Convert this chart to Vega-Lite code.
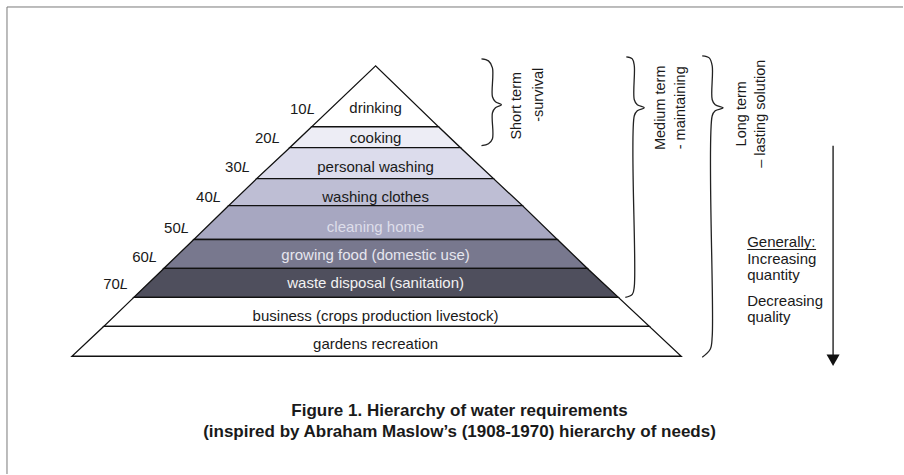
{
  "$schema": "https://vega.github.io/schema/vega-lite/v6.json",
  "width": 904,
  "height": 475,
  "autosize": {"type": "fit", "contains": "padding"},
  "padding": 0,
  "background": "white",
  "config": {"view": {"stroke": null}, "font": "Liberation Sans"},
  "datasets": {
    "frame": [
      {"x": 7, "y": 7, "x2": 7, "y2": 475},
      {"x": 7, "y": 7, "x2": 904, "y2": 7}
    ],
    "bands": [
      {"band": "drinking", "y": 66, "x": 376, "x2": 376},
      {"band": "drinking", "y": 127, "x": 312, "x2": 439},
      {"band": "cooking", "y": 127, "x": 312, "x2": 439},
      {"band": "cooking", "y": 148, "x": 290, "x2": 461},
      {"band": "personal washing", "y": 148, "x": 290, "x2": 461},
      {"band": "personal washing", "y": 179, "x": 257, "x2": 494},
      {"band": "washing clothes", "y": 179, "x": 257, "x2": 494},
      {"band": "washing clothes", "y": 206, "x": 229, "x2": 523},
      {"band": "cleaning home", "y": 206, "x": 229, "x2": 523},
      {"band": "cleaning home", "y": 240, "x": 194, "x2": 558},
      {"band": "growing food", "y": 240, "x": 194, "x2": 558},
      {"band": "growing food", "y": 269, "x": 164, "x2": 588},
      {"band": "waste disposal", "y": 269, "x": 164, "x2": 588},
      {"band": "waste disposal", "y": 298, "x": 134, "x2": 619},
      {"band": "business", "y": 298, "x": 134, "x2": 619},
      {"band": "business", "y": 327, "x": 104, "x2": 650},
      {"band": "gardens", "y": 327, "x": 104, "x2": 650},
      {"band": "gardens", "y": 357, "x": 72, "x2": 682}
    ],
    "labels": [
      {"band": "drinking", "label": "drinking", "x": 376, "y": 108},
      {"band": "cooking", "label": "cooking", "x": 376, "y": 138},
      {"band": "personal washing", "label": "personal washing", "x": 376, "y": 167},
      {"band": "washing clothes", "label": "washing clothes", "x": 376, "y": 197},
      {"band": "cleaning home", "label": "cleaning home", "x": 376, "y": 227},
      {"band": "growing food", "label": "growing food (domestic use)", "x": 376, "y": 256},
      {"band": "waste disposal", "label": "waste disposal (sanitation)", "x": 376, "y": 284},
      {"band": "business", "label": "business (crops production livestock)", "x": 376, "y": 317},
      {"band": "gardens", "label": "gardens recreation", "x": 376, "y": 345}
    ],
    "levels": [
      {"n": "10", "x": 307, "y": 109},
      {"n": "20", "x": 272, "y": 138},
      {"n": "30", "x": 242, "y": 167},
      {"n": "40", "x": 213, "y": 197},
      {"n": "50", "x": 181, "y": 228},
      {"n": "60", "x": 149, "y": 258},
      {"n": "70", "x": 120, "y": 285}
    ],
    "braces": [
      {"brace": "short", "i": 1, "x": 482, "y": 59},
      {"brace": "short", "i": 2, "x": 489, "y": 61},
      {"brace": "short", "i": 3, "x": 493, "y": 68},
      {"brace": "short", "i": 4, "x": 493, "y": 97},
      {"brace": "short", "i": 5, "x": 496, "y": 102},
      {"brace": "short", "i": 6, "x": 502, "y": 105},
      {"brace": "short", "i": 7, "x": 496, "y": 108},
      {"brace": "short", "i": 8, "x": 493, "y": 113},
      {"brace": "short", "i": 9, "x": 493, "y": 139},
      {"brace": "short", "i": 10, "x": 489, "y": 144},
      {"brace": "short", "i": 11, "x": 482, "y": 146},
      {"brace": "medium", "i": 1, "x": 627, "y": 57},
      {"brace": "medium", "i": 2, "x": 633, "y": 59},
      {"brace": "medium", "i": 3, "x": 635, "y": 66},
      {"brace": "medium", "i": 4, "x": 635, "y": 100},
      {"brace": "medium", "i": 5, "x": 638, "y": 105},
      {"brace": "medium", "i": 6, "x": 645, "y": 108},
      {"brace": "medium", "i": 7, "x": 638, "y": 111},
      {"brace": "medium", "i": 8, "x": 635, "y": 116},
      {"brace": "medium", "i": 9, "x": 635, "y": 287},
      {"brace": "medium", "i": 10, "x": 633, "y": 295},
      {"brace": "medium", "i": 11, "x": 626, "y": 298},
      {"brace": "long", "i": 1, "x": 703, "y": 56},
      {"brace": "long", "i": 2, "x": 710, "y": 58},
      {"brace": "long", "i": 3, "x": 713, "y": 66},
      {"brace": "long", "i": 4, "x": 713, "y": 100},
      {"brace": "long", "i": 5, "x": 716, "y": 105},
      {"brace": "long", "i": 6, "x": 724, "y": 108},
      {"brace": "long", "i": 7, "x": 716, "y": 111},
      {"brace": "long", "i": 8, "x": 713, "y": 116},
      {"brace": "long", "i": 9, "x": 713, "y": 337},
      {"brace": "long", "i": 10, "x": 711, "y": 350},
      {"brace": "long", "i": 11, "x": 703, "y": 358}
    ],
    "terms": [
      {"t": "Short term", "x": 518, "y": 106},
      {"t": "-survival", "x": 540, "y": 95},
      {"t": "Medium term", "x": 662, "y": 108},
      {"t": "- maintaining", "x": 682, "y": 108},
      {"t": "Long term", "x": 743, "y": 114},
      {"t": "– lasting solution", "x": 762, "y": 114}
    ],
    "notes": [
      {"t": "Generally:", "x": 748, "y": 243},
      {"t": "Increasing", "x": 748, "y": 260},
      {"t": "quantity", "x": 748, "y": 276},
      {"t": "Decreasing", "x": 748, "y": 302},
      {"t": "quality", "x": 748, "y": 318}
    ],
    "underline": [
      {"x": 748, "x2": 817, "y": 250, "y2": 250}
    ],
    "arrow": [
      {"x": 834, "x2": 834, "y": 146, "y2": 358}
    ],
    "arrowhead": [
      {"x": 834, "y": 361}
    ],
    "title": [
      {"t": "Figure 1. Hierarchy of water requirements", "x": 460, "y": 412},
      {"t": "(inspired by Abraham Maslow’s (1908-1970) hierarchy of needs)", "x": 460, "y": 433}
    ]
  },
  "encoding": {
    "x": {"field": "x", "type": "quantitative", "scale": {"domain": [0, 904], "nice": false, "zero": false}, "axis": null},
    "y": {"field": "y", "type": "quantitative", "scale": {"domain": [0, 475], "nice": false, "zero": false, "reverse": true}, "axis": null}
  },
  "layer": [
    {
      "data": {"name": "frame"},
      "mark": {"type": "rule", "color": "#7a7a7a", "strokeWidth": 1},
      "encoding": {"x2": {"field": "x2"}, "y2": {"field": "y2"}}
    },
    {
      "data": {"name": "bands"},
      "mark": {"type": "area", "orient": "horizontal", "stroke": "#111111", "strokeWidth": 1.3, "opacity": 1},
      "encoding": {
        "x": {"field": "x", "type": "quantitative", "stack": null, "scale": {"domain": [0, 904], "nice": false, "zero": false}, "axis": null},
        "x2": {"field": "x2"},
        "color": {
          "field": "band", "type": "nominal", "legend": null,
          "scale": {
            "domain": ["drinking", "cooking", "personal washing", "washing clothes", "cleaning home", "growing food", "waste disposal", "business", "gardens"],
            "range": ["#ffffff", "#ededf5", "#dcdcec", "#bebed4", "#a7a7c1", "#78788e", "#4f4f5d", "#ffffff", "#ffffff"]
          }
        }
      }
    },
    {
      "data": {"name": "labels"},
      "mark": {"type": "text", "align": "center", "baseline": "middle", "fontSize": 15, "font": "Liberation Sans"},
      "encoding": {
        "text": {"field": "label"},
        "color": {
          "field": "band", "type": "nominal", "legend": null,
          "scale": {
            "domain": ["drinking", "cooking", "personal washing", "washing clothes", "cleaning home", "growing food", "waste disposal", "business", "gardens"],
            "range": ["#1a1a1a", "#1a1a1a", "#1a1a1a", "#1a1a1a", "#dedeea", "#e6e6ee", "#f2f2f2", "#1a1a1a", "#1a1a1a"]
          }
        }
      }
    },
    {
      "data": {"name": "levels"},
      "mark": {"type": "text", "align": "right", "baseline": "middle", "fontSize": 15, "font": "Liberation Sans", "color": "#1a1a1a"},
      "encoding": {"text": {"field": "n"}}
    },
    {
      "data": {"name": "levels"},
      "mark": {"type": "text", "align": "left", "baseline": "middle", "fontSize": 15, "font": "Liberation Sans", "fontStyle": "italic", "color": "#1a1a1a"},
      "encoding": {"text": {"value": "L"}}
    },
    {
      "data": {"name": "braces"},
      "mark": {"type": "line", "interpolate": "catmull-rom", "color": "#222222", "strokeWidth": 1.3},
      "encoding": {"detail": {"field": "brace"}, "order": {"field": "i", "type": "quantitative"}}
    },
    {
      "data": {"name": "terms"},
      "mark": {"type": "text", "angle": 270, "align": "center", "baseline": "middle", "fontSize": 14.5, "font": "Liberation Sans", "color": "#1a1a1a"},
      "encoding": {"text": {"field": "t"}}
    },
    {
      "data": {"name": "notes"},
      "mark": {"type": "text", "align": "left", "baseline": "middle", "fontSize": 15, "font": "Liberation Sans", "color": "#1a1a1a"},
      "encoding": {"text": {"field": "t"}}
    },
    {
      "data": {"name": "underline"},
      "mark": {"type": "rule", "color": "#1a1a1a", "strokeWidth": 1},
      "encoding": {"x2": {"field": "x2"}, "y2": {"field": "y2"}}
    },
    {
      "data": {"name": "arrow"},
      "mark": {"type": "rule", "color": "#111111", "strokeWidth": 1.3},
      "encoding": {"x2": {"field": "x2"}, "y2": {"field": "y2"}}
    },
    {
      "data": {"name": "arrowhead"},
      "mark": {"type": "point", "shape": "triangle-down", "filled": true, "size": 170, "color": "#111111", "opacity": 1},
      "encoding": {}
    },
    {
      "data": {"name": "title"},
      "mark": {"type": "text", "align": "center", "baseline": "middle", "fontSize": 17, "fontWeight": "bold", "font": "Liberation Sans", "color": "#1a1a1a"},
      "encoding": {"text": {"field": "t"}}
    }
  ],
  "resolve": {"scale": {"color": "independent"}}
}
